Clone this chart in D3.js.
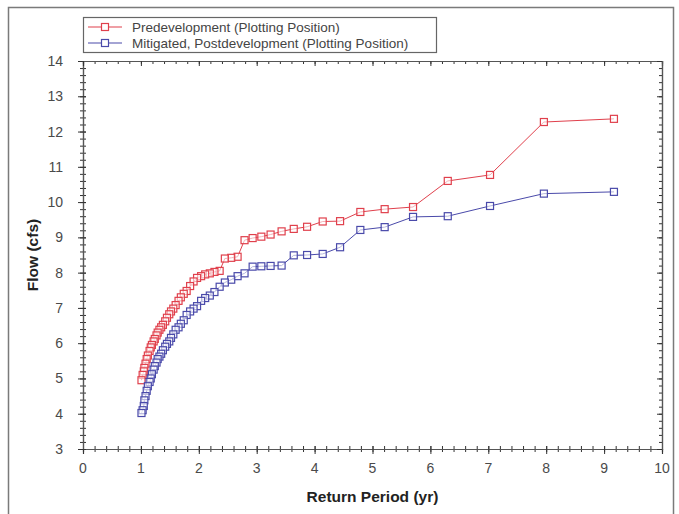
<!DOCTYPE html>
<html>
<head>
<meta charset="utf-8">
<script src="https://cdn.jsdelivr.net/npm/d3@7"></script>
<style>
body { margin: 0; background: #fff; }
text { font-family: "Liberation Sans", Arial, sans-serif; }
.tickLabel { font-size: 14px; fill: #4a4a4a; }
.axisTitle { font-size: 15.5px; font-weight: bold; fill: #222; }
.legendText { font-size: 13.5px; fill: #444; }
</style>
</head>
<body>
<svg id="chart"></svg>
<script>
// return periods (yr), shared by both series
const returnPeriod = [9.17, 7.96, 7.03, 6.30, 5.70, 5.21, 4.79, 4.44, 4.14, 3.87,
  3.64, 3.43, 3.24, 3.08, 2.93, 2.79, 2.67, 2.56, 2.45, 2.36,
  2.27, 2.19, 2.11, 2.04, 1.97, 1.91, 1.85, 1.79, 1.74, 1.69,
  1.65, 1.60, 1.56, 1.52, 1.49, 1.45, 1.42, 1.38, 1.35, 1.32,
  1.29, 1.27, 1.24, 1.22, 1.19, 1.17, 1.15, 1.12, 1.10, 1.08,
  1.06, 1.05, 1.03, 1.01];

const preFlow = [12.36, 12.27, 10.77, 10.60, 9.86, 9.80, 9.72, 9.46, 9.45, 9.30,
  9.24, 9.17, 9.08, 9.02, 8.98, 8.92, 8.45, 8.42, 8.40, 8.05,
  8.02, 7.98, 7.95, 7.90, 7.85, 7.75, 7.62, 7.48, 7.40, 7.30,
  7.20, 7.08, 6.98, 6.90, 6.82, 6.72, 6.62, 6.52, 6.45, 6.38,
  6.30, 6.22, 6.12, 6.05, 5.95, 5.88, 5.78, 5.65, 5.55, 5.42,
  5.30, 5.20, 5.10, 4.95];

const postFlow = [10.29, 10.24, 9.89, 9.60, 9.58, 9.29, 9.21, 8.72, 8.53, 8.50,
  8.49, 8.20, 8.19, 8.18, 8.17, 7.98, 7.90, 7.80, 7.72, 7.60,
  7.45, 7.35, 7.28, 7.20, 7.05, 6.98, 6.90, 6.80, 6.65, 6.55,
  6.45, 6.38, 6.25, 6.15, 6.05, 5.98, 5.90, 5.80, 5.70, 5.62,
  5.55, 5.45, 5.35, 5.25, 5.12, 5.00, 4.90, 4.78, 4.65, 4.50,
  4.38, 4.22, 4.10, 4.02];

const seriesNames = ["Predevelopment (Plotting Position)", "Mitigated, Postdevelopment (Plotting Position)"];
const seriesColours = ["#e0404c", "#4a4aaa"];

const xTicks = [0, 1, 2, 3, 4, 5, 6, 7, 8, 9, 10];
const yTicks = [3, 4, 5, 6, 7, 8, 9, 10, 11, 12, 13, 14];

var width = 679;
var height = 514;

const margin = {
  top: 61,
  right: 17,
  bottom: 65,
  left: 83
};

var svg = d3.select("#chart")
  .attr("width", width)
  .attr("height", height);

// outer frame
svg.append("rect")
  .attr("x", 8.5)
  .attr("y", 7.5)
  .attr("width", 665)
  .attr("height", 510)
  .style("fill", "none")
  .style("stroke", "#7a7a7a")
  .style("stroke-width", 1.5);

let x = d3.scaleLinear()
  .domain([0, 10])
  .range([margin.left, width - margin.right]);

let y = d3.scaleLinear()
  .domain([3, 14])
  .range([449, margin.top]);

let minorX = d3.range(0, 10.001, 0.2);
let minorY = d3.range(3, 14.001, 0.2);

// axes: bottom / left carry labels, top / right just ticks
let axisColour = "#555";

let bottomAxis = svg.append("g")
  .attr("transform", `translate(0, ${y(3)})`)
  .call(d3.axisBottom(x).tickValues(minorX).tickSize(3).tickFormat(""));
bottomAxis.append("g").call(d3.axisBottom(x).tickValues(xTicks).tickSize(5).tickFormat(""));

let leftAxis = svg.append("g")
  .attr("transform", `translate(${x(0)}, 0)`)
  .call(d3.axisLeft(y).tickValues(minorY).tickSize(3).tickFormat(""));
leftAxis.append("g").call(d3.axisLeft(y).tickValues(yTicks).tickSize(5).tickFormat(""));

let topAxis = svg.append("g")
  .attr("transform", `translate(0, ${y(14)})`)
  .call(d3.axisBottom(x).tickValues(minorX).tickSize(3).tickFormat(""));
topAxis.append("g").call(d3.axisBottom(x).tickValues(xTicks).tickSize(5).tickFormat(""));

let rightAxis = svg.append("g")
  .attr("transform", `translate(${x(10)}, 0)`)
  .call(d3.axisLeft(y).tickValues(minorY).tickSize(3).tickFormat(""));
rightAxis.append("g").call(d3.axisLeft(y).tickValues(yTicks).tickSize(5).tickFormat(""));

// ticks cross the bottom/left lines like the original
bottomAxis.selectAll(".tick line").attr("y1", -3);
leftAxis.selectAll(".tick line").attr("x1", 3);

svg.selectAll(".domain")
  .style("stroke", axisColour)
  .style("stroke-width", 1.2);
svg.selectAll(".tick line")
  .style("stroke", "#333");

svg.selectAll("text.xLabel")
  .data(xTicks)
  .enter()
  .append("text")
  .attr("class", "tickLabel")
  .attr("x", d => x(d))
  .attr("y", y(3) + 24)
  .style("text-anchor", "middle")
  .text(d => d);

svg.selectAll("text.yLabel")
  .data(yTicks)
  .enter()
  .append("text")
  .attr("class", "tickLabel")
  .attr("x", x(0) - 20)
  .attr("y", d => y(d) + 5)
  .style("text-anchor", "end")
  .text(d => d);

svg.append("text")
  .attr("class", "axisTitle")
  .attr("x", x(5))
  .attr("y", 502)
  .style("text-anchor", "middle")
  .text("Return Period (yr)");

svg.append("text")
  .attr("class", "axisTitle")
  .attr("transform", `translate(38, ${y(8.5)}) rotate(-90)`)
  .style("text-anchor", "middle")
  .text("Flow (cfs)");

// series
let series = [preFlow, postFlow].map((flows, i) => ({
  name: seriesNames[i],
  colour: seriesColours[i],
  points: flows.map((f, j) => ({ t: returnPeriod[j], flow: f }))
}));

let line = d3.line()
  .x(d => x(d.t))
  .y(d => y(d.flow));

series.forEach(s => {
  svg.append("path")
    .datum(s.points)
    .attr("d", line)
    .style("fill", "none")
    .style("stroke", s.colour)
    .style("stroke-width", 1);

  svg.selectAll(null)
    .data(s.points)
    .enter()
    .append("rect")
    .attr("x", d => x(d.t) - 3.5)
    .attr("y", d => y(d.flow) - 3.5)
    .attr("width", 7)
    .attr("height", 7)
    .style("fill", "#fff")
    .style("fill-opacity", 0.6)
    .style("stroke", s.colour)
    .style("stroke-width", 1.2);
});

// legend
let legend = svg.append("g");

legend.append("rect")
  .attr("x", 83.5)
  .attr("y", 17.5)
  .attr("width", 353)
  .attr("height", 35)
  .style("fill", "#fff")
  .style("stroke", "#666")
  .style("stroke-width", 1.2);

series.forEach((s, i) => {
  let ly = 27 + i * 16;
  legend.append("line")
    .attr("x1", 88)
    .attr("x2", 122)
    .attr("y1", ly)
    .attr("y2", ly)
    .style("stroke", s.colour)
    .style("stroke-width", 1.2);
  legend.append("rect")
    .attr("x", 101.5)
    .attr("y", ly - 3.5)
    .attr("width", 7)
    .attr("height", 7)
    .style("fill", "#fff")
    .style("stroke", s.colour)
    .style("stroke-width", 1.2);
  legend.append("text")
    .attr("class", "legendText")
    .attr("x", 132)
    .attr("y", ly + 4.5)
    .text(s.name);
});
</script>
</body>
</html>
